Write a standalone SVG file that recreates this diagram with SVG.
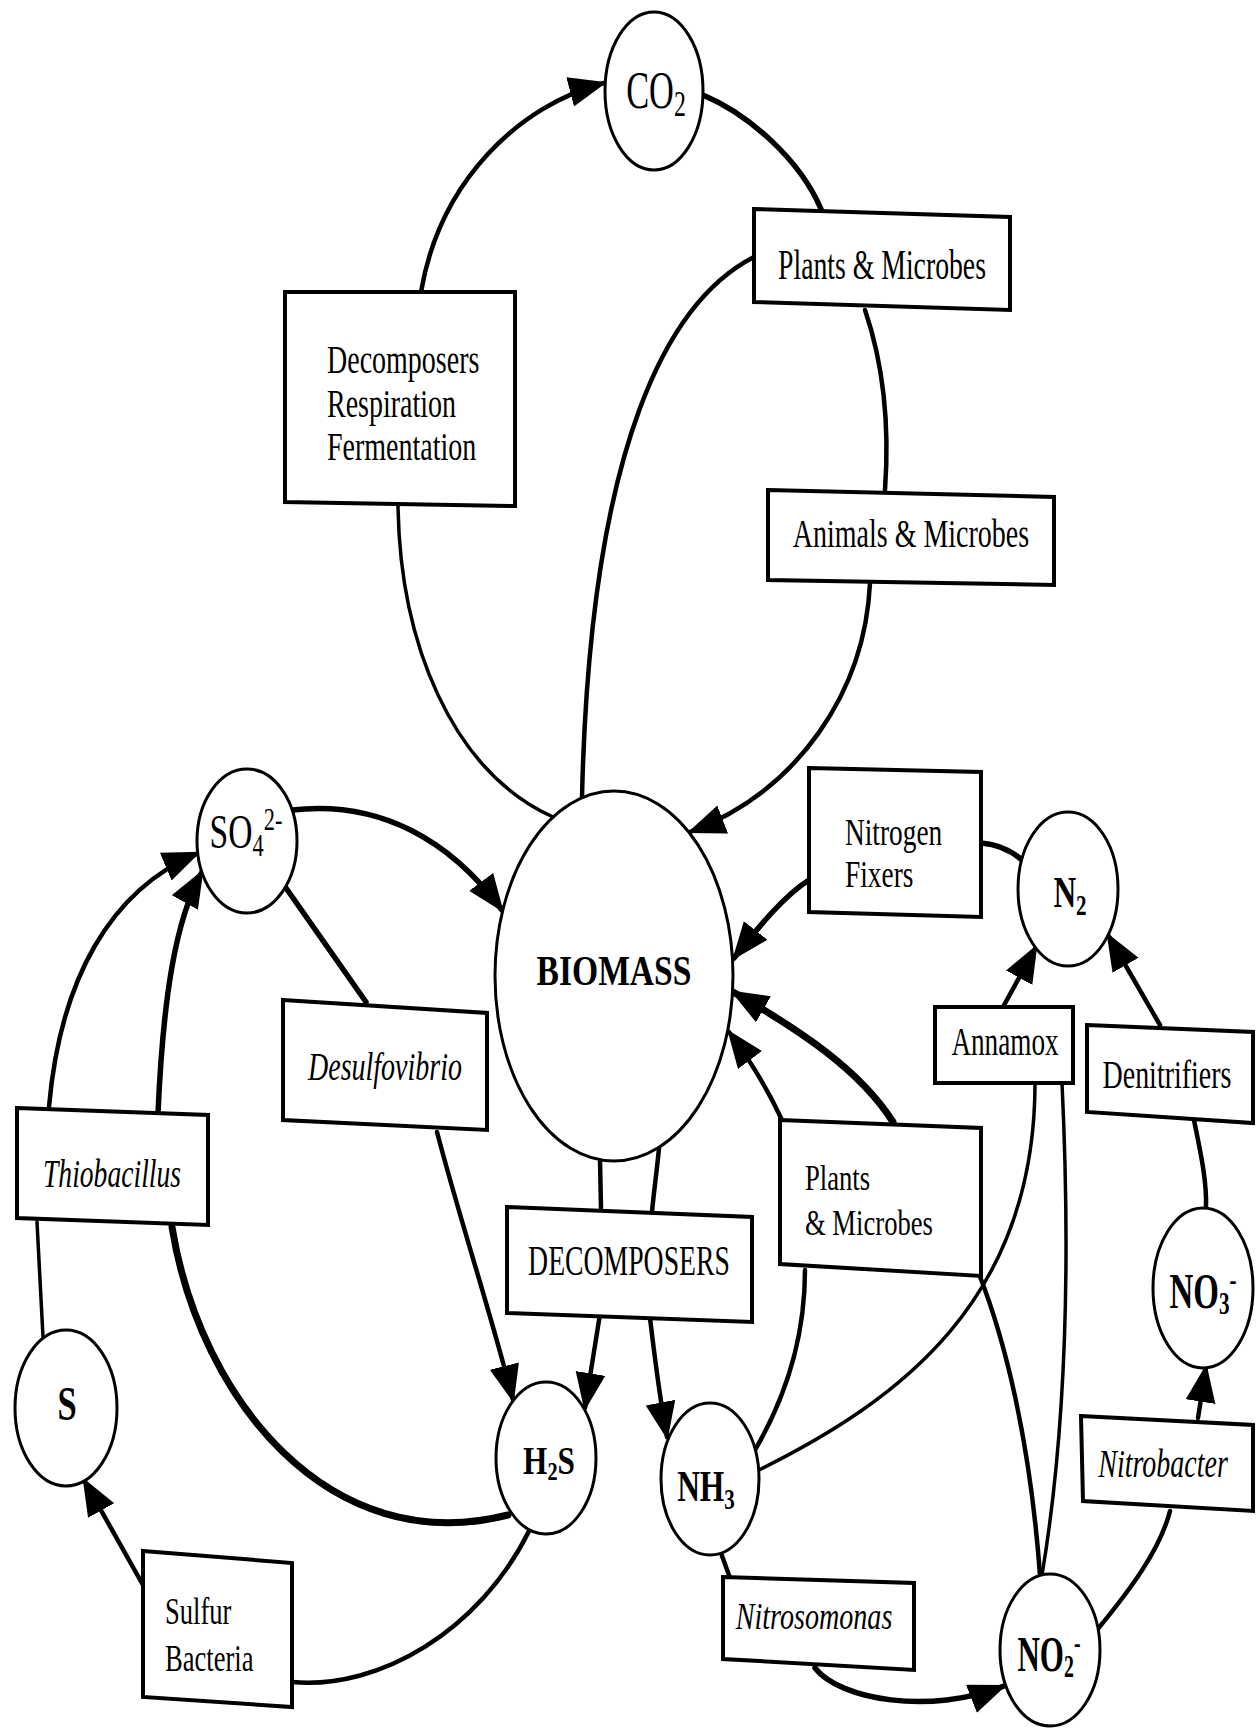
<svg xmlns="http://www.w3.org/2000/svg" width="1256" height="1730" viewBox="0 0 1256 1730">
<style>
.bg{fill:#fff}
.ln{fill:none;stroke:#000;stroke-linecap:round}
.w3{stroke-width:3.5}
.w4{stroke-width:4.5}
.w5{stroke-width:5.5}
.w6{stroke-width:7}
.bx{fill:#fff;stroke:#000;stroke-width:4;stroke-linejoin:miter}
.el{fill:#fff;stroke:#000;stroke-width:3}
.t{font-family:"Liberation Serif","Times New Roman",serif;font-size:40px;fill:#000}
.i{font-style:italic}
.b{font-weight:bold}
.m{text-anchor:middle}
</style>
<defs>
<marker id="ah" markerUnits="userSpaceOnUse" markerWidth="42" markerHeight="34" refX="35" refY="15" orient="auto">
<path d="M0,0 L38,15 L0,30 z" fill="#000"/>
</marker>
</defs>
<rect class="bg" x="0" y="0" width="1256" height="1730"/>

<g id="connectors">
<path class="ln w4" d="M421 292 C440 180 520 105 604 83" marker-end="url(#ah)"/>
<path class="ln w5" d="M703 95 C750 115 800 160 821 209"/>
<path class="ln w4" d="M754 257 C670 300 590 440 582 798"/>
<path class="ln w4" d="M865 310 C882 360 890 420 885 490"/>
<path class="ln w3" d="M398 506 C400 640 450 770 553 817"/>
<path class="ln w4" d="M870 583 C865 690 800 790 690 832" marker-end="url(#ah)"/>
<path class="ln w5" d="M292 810 C380 800 450 840 502 910" marker-end="url(#ah)"/>
<path class="ln w5" d="M286 888 L366 1002"/>
<path class="ln w4" d="M437 1132 C460 1220 490 1310 513 1400" marker-end="url(#ah)"/>
<path class="ln w4" d="M49 1107 C60 980 110 890 198 853" marker-end="url(#ah)"/>
<path class="ln w5" d="M158 1113 C163 1000 175 920 202 872" marker-end="url(#ah)"/>
<path class="ln w3" d="M37 1222 L43 1337"/>
<path class="ln w6" d="M172 1227 C200 1400 330 1560 508 1515"/>
<path class="ln w4" d="M529 1531 C480 1630 380 1690 292 1682"/>
<path class="ln w4" d="M143 1585 L84 1480" marker-end="url(#ah)"/>
<path class="ln w4" d="M600 1160 L601 1208"/>
<path class="ln w4" d="M659 1148 C657 1170 654 1190 652 1212"/>
<path class="ln w4" d="M600 1314 L585 1408" marker-end="url(#ah)"/>
<path class="ln w4" d="M650 1318 C655 1360 660 1400 667 1437" marker-end="url(#ah)"/>
<path class="ln w5" d="M809 880 C785 895 760 925 734 958" marker-end="url(#ah)"/>
<path class="ln w5" d="M1022 860 Q1005 845 981 843"/>
<path class="ln w6" d="M893 1122 C860 1070 800 1030 733 992" marker-end="url(#ah)"/>
<path class="ln w4" d="M782 1120 C768 1090 750 1060 729 1032" marker-end="url(#ah)"/>
<path class="ln w4" d="M1003 1007 L1036 947" marker-end="url(#ah)"/>
<path class="ln w4" d="M1160 1025 L1108 935" marker-end="url(#ah)"/>
<path class="ln w4" d="M1194 1120 C1200 1150 1207 1180 1206 1208"/>
<path class="ln w4" d="M1198 1418 L1206 1367" marker-end="url(#ah)"/>
<path class="ln w4" d="M1097 1630 C1130 1590 1160 1550 1170 1511"/>
<path class="ln w3" d="M1035 1083 C1035 1300 900 1400 759 1470"/>
<path class="ln w3" d="M1062 1083 C1070 1250 1068 1420 1042 1575"/>
<path class="ln w4" d="M979 1274 C1005 1340 1030 1440 1040 1575"/>
<path class="ln w4" d="M755 1450 C790 1390 805 1330 805 1270"/>
<path class="ln w4" d="M721 1553 L730 1578"/>
<path class="ln w5" d="M815 1668 C840 1700 930 1715 1004 1686" marker-end="url(#ah)"/>
</g>

<g id="co2">
<ellipse class="el" cx="654" cy="91" rx="49" ry="79"/>
<text class="t m" transform="translate(656 108) scale(0.66 1)" style="font-size:52px">CO<tspan dy="8" style="font-size:36px">2</tspan></text>
</g>
<g id="biomass">
<ellipse class="el" cx="614" cy="976" rx="119" ry="185"/>
<text class="t m b" transform="translate(614 985) scale(0.8 1)" style="font-size:42px">BIOMASS</text>
</g>
<g id="so4">
<ellipse class="el" cx="247" cy="841" rx="50" ry="72"/>
<text class="t m" transform="translate(246 848) scale(0.7 1)" style="font-size:48px">SO<tspan dy="8" style="font-size:32px">4</tspan><tspan dy="-26" style="font-size:32px">2-</tspan></text>
</g>
<g id="h2s">
<ellipse class="el" cx="546" cy="1458" rx="50" ry="76"/>
<text class="t m b" transform="translate(549 1474) scale(0.78 1)">H<tspan dy="6" style="font-size:26px">2</tspan><tspan dy="-6">S</tspan></text>
</g>
<g id="s">
<ellipse class="el" cx="66" cy="1408" rx="51" ry="78"/>
<text class="t m b" transform="translate(67 1420) scale(0.72 1)" style="font-size:48px">S</text>
</g>
<g id="nh3">
<ellipse class="el" cx="710" cy="1479" rx="49" ry="76"/>
<text class="t m b" transform="translate(706 1501) scale(0.7 1)" style="font-size:45px">NH<tspan dy="8" style="font-size:30px">3</tspan></text>
</g>
<g id="n2">
<ellipse class="el" cx="1068" cy="889" rx="50" ry="77"/>
<text class="t m b" transform="translate(1070 907) scale(0.7 1)" style="font-size:45px">N<tspan dy="8" style="font-size:30px">2</tspan></text>
</g>
<g id="no3">
<ellipse class="el" cx="1203" cy="1288" rx="50" ry="80"/>
<text class="t m b" transform="translate(1203 1308) scale(0.66 1)" style="font-size:50px">NO<tspan dy="6" style="font-size:32px">3</tspan><tspan dy="-24" style="font-size:32px">-</tspan></text>
</g>
<g id="no2">
<ellipse class="el" cx="1050" cy="1650" rx="50" ry="76"/>
<text class="t m b" transform="translate(1049 1671) scale(0.62 1)" style="font-size:50px">NO<tspan dy="6" style="font-size:32px">2</tspan><tspan dy="-24" style="font-size:32px">-</tspan></text>
</g>

<g id="plants-microbes-top">
<polygon class="bx" points="754,209 1010,217 1010,310 754,302"/>
<text class="t m" transform="translate(882 279) scale(0.66 1)" style="font-size:42px">Plants &amp; Microbes</text>
</g>
<g id="decomposers-respiration">
<polygon class="bx" points="285,292 515,292 515,506 285,502"/>
<text class="t" transform="translate(327 373) scale(0.7 1)">Decomposers</text>
<text class="t" transform="translate(327 417) scale(0.7 1)">Respiration</text>
<text class="t" transform="translate(327 460) scale(0.7 1)">Fermentation</text>
</g>
<g id="animals-microbes">
<polygon class="bx" points="768,490 1054,497 1054,585 768,580"/>
<text class="t m" transform="translate(911 547) scale(0.7 1)">Animals &amp; Microbes</text>
</g>
<g id="thiobacillus">
<polygon class="bx" points="17,1108 208,1115 208,1225 17,1218"/>
<text class="t m i" transform="translate(112 1187) scale(0.69 1)">Thiobacillus</text>
</g>
<g id="desulfovibrio">
<polygon class="bx" points="283,1000 487,1013 487,1130 283,1120"/>
<text class="t m i" transform="translate(385 1080) scale(0.7 1)">Desulfovibrio</text>
</g>
<g id="decomposers">
<polygon class="bx" points="507,1207 752,1217 752,1322 507,1313"/>
<text class="t m" transform="translate(629 1275) scale(0.66 1)" style="font-size:42px">DECOMPOSERS</text>
</g>
<g id="sulfur-bacteria">
<polygon class="bx" points="143,1551 292,1563 292,1707 143,1697"/>
<text class="t" transform="translate(165 1624) scale(0.7 1)" style="font-size:38px">Sulfur</text>
<text class="t" transform="translate(165 1671) scale(0.7 1)" style="font-size:38px">Bacteria</text>
</g>
<g id="nitrogen-fixers">
<polygon class="bx" points="809,768 981,772 981,917 809,912"/>
<text class="t" transform="translate(845 845) scale(0.72 1)" style="font-size:38px">Nitrogen</text>
<text class="t" transform="translate(845 887) scale(0.72 1)" style="font-size:38px">Fixers</text>
</g>
<g id="annamox">
<polygon class="bx" points="935,1007 1073,1007 1073,1083 935,1083"/>
<text class="t m" transform="translate(1005 1055) scale(0.68 1)">Annamox</text>
</g>
<g id="denitrifiers">
<polygon class="bx" points="1087,1025 1253,1032 1253,1123 1087,1112"/>
<text class="t m" transform="translate(1167 1088) scale(0.7 1)">Denitrifiers</text>
</g>
<g id="plants-microbes-lower">
<polygon class="bx" points="780,1120 981,1128 981,1276 780,1264"/>
<text class="t" transform="translate(805 1190) scale(0.74 1)" style="font-size:36px">Plants</text>
<text class="t" transform="translate(805 1235) scale(0.74 1)" style="font-size:36px">&amp; Microbes</text>
</g>
<g id="nitrosomonas">
<polygon class="bx" points="723,1577 914,1583 914,1670 723,1659"/>
<text class="t m i" transform="translate(814 1629) scale(0.74 1)" style="font-size:38px">Nitrosomonas</text>
</g>
<g id="nitrobacter">
<polygon class="bx" points="1081,1416 1253,1425 1253,1511 1083,1501"/>
<text class="t m i" transform="translate(1163 1477) scale(0.7 1)">Nitrobacter</text>
</g>
</svg>
